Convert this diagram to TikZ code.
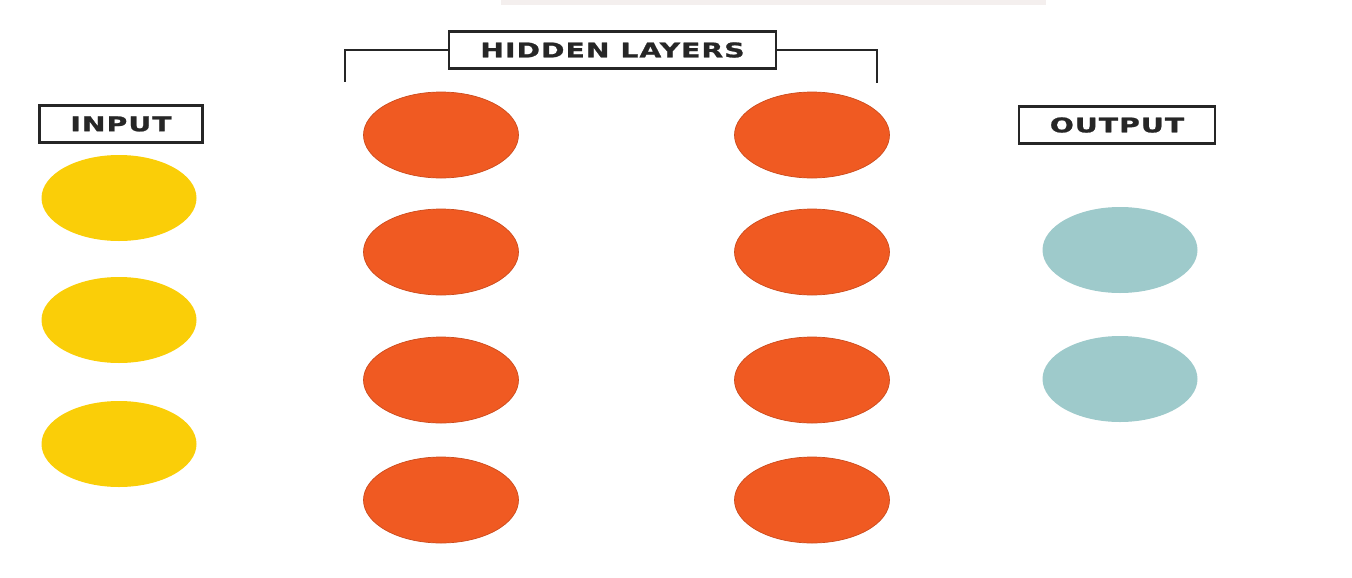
\documentclass[tikz,border=0pt]{standalone}
\usepackage{fontspec}
\newfontfamily\lblfont[FakeStretch=1.4,LetterSpace=5,BoldFeatures={FakeBold=1.2}]{DejaVu Sans}
\definecolor{nnYellow}{HTML}{FACE08}
\definecolor{nnOrange}{HTML}{F05A22}
\definecolor{nnTeal}{HTML}{9ECACB}
\definecolor{nnInk}{HTML}{262626}
\definecolor{nnBar}{HTML}{F4EFEE}
\usepackage{tikz}
\usetikzlibrary{shapes.geometric, positioning, calc}

\begin{document}
\begin{tikzpicture}[
  neuron/.style={ellipse, minimum width=3.1cm, minimum height=1.72cm, inner sep=0pt},
  lbl/.style={draw=nnInk, line width=1.3pt, text=nnInk, inner xsep=0.62cm,
    minimum height=0.74cm, font=\lblfont\bfseries\fontsize{11.5}{13}\selectfont},
  bracket/.style={draw=nnInk, line width=1.5pt}]
  \useasboundingbox (0,0) rectangle (27.04,-11.54);
  \fill[nnBar] (10.02,0) rectangle (20.92,-0.10);
  % labels
  \node[lbl] (inlbl) at (2.42,-2.48) {INPUT};
  \node[lbl] (hidlbl) at (12.25,-1.00) {HIDDEN LAYERS};
  \node[lbl] (outlbl) at (22.34,-2.50) {OUTPUT};
  \coordinate (brL) at (6.90,-1.64);
  \coordinate (brR) at (17.54,-1.66);
  \draw[bracket] (hidlbl.west) -| (brL);
  \draw[bracket] (hidlbl.east) -| (brR);
  % input layer
  \node[neuron, fill=nnYellow] (in1) at (2.38,-3.96) {};
  \node[neuron, fill=nnYellow] (in2) at (2.38,-6.40) {};
  \node[neuron, fill=nnYellow] (in3) at (2.38,-8.88) {};
  % hidden layers
  \node[neuron, fill=nnOrange, draw=nnOrange!85!black, line width=0.4pt] (ha1) at (8.82,-2.70) {};
  \node[neuron, fill=nnOrange, draw=nnOrange!85!black, line width=0.4pt] (ha2) at (8.82,-5.04) {};
  \node[neuron, fill=nnOrange, draw=nnOrange!85!black, line width=0.4pt] (ha3) at (8.82,-7.60) {};
  \node[neuron, fill=nnOrange, draw=nnOrange!85!black, line width=0.4pt] (ha4) at (8.82,-10.00) {};
  \node[neuron, fill=nnOrange, draw=nnOrange!85!black, line width=0.4pt] (hb1) at (16.24,-2.70) {};
  \node[neuron, fill=nnOrange, draw=nnOrange!85!black, line width=0.4pt] (hb2) at (16.24,-5.04) {};
  \node[neuron, fill=nnOrange, draw=nnOrange!85!black, line width=0.4pt] (hb3) at (16.24,-7.60) {};
  \node[neuron, fill=nnOrange, draw=nnOrange!85!black, line width=0.4pt] (hb4) at (16.24,-10.00) {};
  % output layer
  \node[neuron, fill=nnTeal] (out1) at (22.40,-5.00) {};
  \node[neuron, fill=nnTeal] (out2) at (22.40,-7.58) {};
\end{tikzpicture}
\end{document}
